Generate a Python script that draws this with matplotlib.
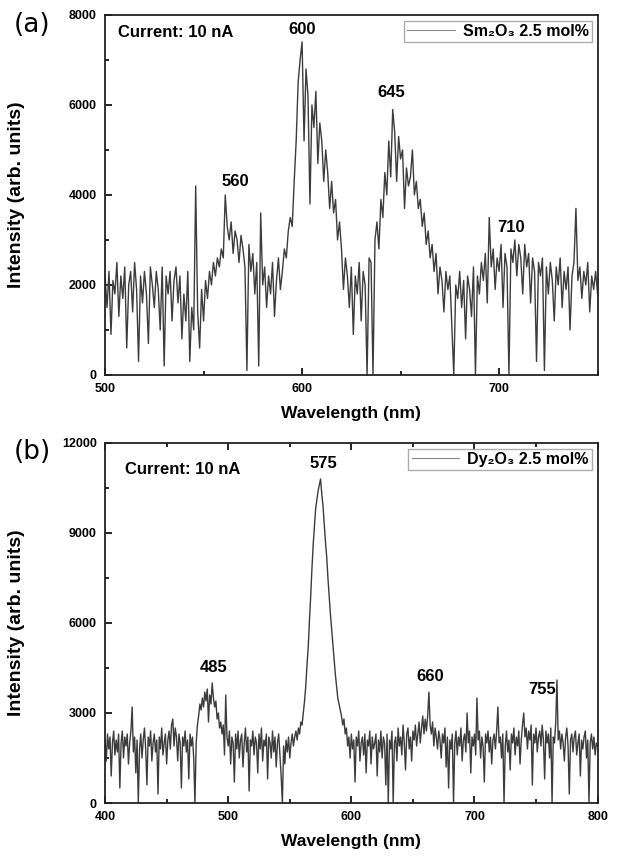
import numpy as np
import matplotlib
matplotlib.use("Agg")
import matplotlib.pyplot as plt
from matplotlib.ticker import MultipleLocator

plt.rcParams['font.family'] = ['Liberation Sans', 'DejaVu Sans']
plt.rcParams['font.weight'] = 'bold'

# (a) Sm2O3 2.5 mol%, 500-750 nm, 1 nm step
wl_a = np.arange(500, 751)
int_a = [
    2200, 1500, 2300, 900, 2100, 1800, 2500, 1300, 2200, 1700,
    2400, 600, 2000, 2300, 1400, 2500, 1900, 300, 2200, 1600,
    2300, 1800, 700, 2400, 2000, 1500, 2300, 1900, 1000, 2400,
    200, 2200, 1800, 2300, 1200, 2100, 2400, 1600, 2200, 800,
    1800, 1200, 2300, 300, 1500, 1000, 4200, 1400, 600, 1900,
    1200, 2100, 1700, 2300, 2000, 2500, 2200, 2600, 2400, 2800,
    2600, 4000, 3300, 3000, 3400, 2700, 3200, 3000, 2500, 3100,
    2800, 2400, 100, 2900, 2300, 2700, 1800, 2500, 200, 3600,
    2000, 2400, 1500, 2200, 1800, 2500, 1300, 2100, 2600, 1900,
    2300, 2800, 2600, 3200, 3500, 3300, 4300, 5200, 6500, 7000,
    7400, 5200, 6800, 6200, 3800, 6000, 5500, 6300, 4700, 5600,
    5200, 4300, 5000, 4500, 3700, 4300, 3600, 3900, 3000, 3400,
    2800, 1900, 2600, 2200, 1500, 2400, 900, 2200, 1800, 2500,
    1200, 2300, 2000, 0, 2600, 2500, 0, 3000, 3400, 2800,
    3900, 3500, 4500, 4000, 5200, 4400, 5900, 5400, 4300, 5300,
    4800, 5000, 3700, 4600, 4200, 4400, 5000, 4000, 4300, 3700,
    3900, 3300, 3600, 2900, 3200, 2600, 2900, 2300, 2700, 1800,
    2400, 2100, 1400, 2300, 1900, 2200, 1100, 0, 2000, 1700,
    2300, 1500, 2100, 800, 2200, 1900, 1300, 2400, 0, 2200,
    1800, 2500, 2100, 2700, 1600, 3500, 2400, 2800, 1900, 2600,
    2300, 2900, 1500, 2700, 2400, 0, 2800, 2500, 3000, 2200,
    2900, 2600, 1800, 2900, 2400, 2700, 1600, 2600, 2300, 300,
    2500, 2200, 2600, 100, 2400, 1800, 2500, 2100, 1200, 2400,
    2000, 2600, 1500, 2300, 1900, 2400, 1000, 2200, 2500, 3700,
    2100, 2400, 1700, 2300, 2000, 2500, 1400, 2200, 1900, 2300,
    1800,
]

# (b) Dy2O3 2.5 mol%, 400-800 nm, 1 nm step
wl_b = np.arange(400, 801)
int_b = [
    2100, 1400, 2300, 1800, 2200, 900, 2000, 2400, 1600, 2100,
    1700, 2300, 500, 2000, 2400, 1500, 2200, 1900, 2300, 1300,
    2000, 2400, 3200, 1700, 2200, 1000, 2100, 0, 1800, 2300,
    1500, 2100, 2500, 1800, 600, 2200, 1900, 2400, 1400, 2000,
    2300, 1700, 2100, 300, 2200, 1800, 2500, 1600, 2000, 2300,
    1300, 2100, 2400, 1800, 2600, 2800, 1900, 2500, 2200, 1400,
    2300, 2000, 500, 2200, 1900, 2400, 1700, 2100, 800, 2300,
    1900, 2200, 1500, 0, 2000, 2600, 2900, 3300, 3100, 3500,
    3200, 3700, 3400, 3800, 2700, 3600, 3300, 4000, 3500, 3200,
    3400, 2800, 3000, 2500, 2700, 2300, 2600, 1600, 3600, 2200,
    1900, 2400, 1300, 2200, 2000, 700, 2300, 1800, 2400, 1500,
    2100, 2300, 1200, 2000, 2500, 1700, 2200, 400, 2100, 1900,
    2400, 1600, 2200, 2000, 1000, 2300, 1800, 2500, 1400, 2100,
    1900, 2300, 800, 2200, 2000, 1500, 2400, 1700, 2200, 1200,
    2000, 2300, 1600, 900, 0, 1900, 1300, 2100, 1700, 2200,
    1500, 2000, 2300, 1900, 2200, 2400, 2100, 2500, 2300, 2700,
    2600, 3000, 3400, 3900, 4600, 5200, 6100, 6900, 7800, 8600,
    9200, 9800, 10100, 10400, 10600, 10800, 10300, 9900, 9300, 8700,
    8200, 7500, 6900, 6300, 5800, 5300, 4800, 4300, 3900, 3500,
    3300, 3100, 2900, 2600, 2800, 2300, 2500, 1900, 2200, 1500,
    2300, 1800, 2100, 700, 2200, 1900, 2400, 1400, 2000, 2200,
    1600, 2300, 1000, 2100, 1900, 2400, 1300, 2200, 1800, 2000,
    2300, 900, 2100, 1700, 2400, 1500, 2200, 2000, 600, 2300,
    0, 2100, 1800, 2400, 0, 2000, 2200, 1400, 2500, 1900,
    2200, 1600, 2600, 2000, 1100, 2300, 2500, 1800, 2200, 1400,
    2400, 2100, 2600, 1900, 2300, 2700, 2000, 2500, 2900, 2300,
    2800, 2400, 2900, 3700, 2600, 2300, 2700, 1900, 2500, 2200,
    1800, 2400, 2100, 1500, 2300, 2000, 2500, 1200, 2200, 500,
    2100, 1800, 2300, 0, 2000, 2400, 1600, 2200, 1900, 2500,
    1400, 2100, 2300, 1700, 3000, 2000, 2400, 1000, 2200, 1900,
    2300, 1600, 3500, 2100, 2400, 1500, 2200, 1900, 700, 2300,
    2000, 2400, 1700, 2200, 1300, 2100, 2300, 1800, 2400, 3200,
    2000, 2200, 1500, 2300, 0, 1900, 2400, 1700, 2100, 1100,
    2300, 2000, 2500, 1600, 2200, 1900, 2400, 1300, 2100, 2600,
    3000, 2200, 2500, 1800, 2400, 2100, 2600, 600, 2300, 2000,
    2500, 1700, 2200, 2400, 1900, 2600, 2100, 800, 2400, 2000,
    2300, 1500, 2500, 0, 2200, 2000, 2700, 4100, 2100, 2400,
    1800, 2300, 2000, 1400, 2200, 2500, 1900, 300, 2100, 2300,
    1700, 2200, 2400, 1600, 2000, 2300, 900, 2100, 1800, 2200,
    2400, 1500, 2100, 0, 2000, 2300, 1800, 2200, 1600, 2000,
    1900,
]

peaks_a = ['560', '600', '645', '710']
peaks_a_pos = [(566, 4300), (600, 7680), (645.5, 6270), (706, 3280)]
peaks_b = ['485', '575', '660', '755']
peaks_b_pos = [(488.5, 4500), (577, 11300), (664, 4200), (755, 3780)]

fig = plt.figure(figsize=(6.18, 8.58), dpi=100)


def style(ax, xlim, ylim, xmaj, ymaj, top):
    ax.set_xlim(*xlim)
    ax.set_ylim(*ylim)
    ax.xaxis.set_major_locator(MultipleLocator(xmaj))
    ax.xaxis.set_minor_locator(MultipleLocator(xmaj / 2))
    ax.yaxis.set_major_locator(MultipleLocator(ymaj))
    ax.yaxis.set_minor_locator(MultipleLocator(ymaj / 2))
    ax.tick_params(which='both', direction='in', top=top, right=False,
                   width=1.2, labelsize=9)
    ax.tick_params(which='major', length=5, pad=6)
    ax.tick_params(which='minor', length=3)
    for s in ax.spines.values():
        s.set_linewidth(1.3)
        s.set_color('#222222')
    for lab in ax.get_xticklabels() + ax.get_yticklabels():
        lab.set_fontweight('bold')
    ax.set_xlabel('Wavelength (nm)', fontsize=12.5, fontweight='bold')
    ax.set_ylabel('Intensity (arb. units)', fontsize=14, fontweight='bold')
    ax.xaxis.set_label_coords(0.5, -0.085)
    ax.yaxis.set_label_coords(-0.162, 0.5)


leg_prop = dict(family=['Liberation Sans', 'DejaVu Sans'], weight='bold', size=11.5)
line_kw = dict(color='#3c3c3c', lw=1.0)

ax1 = fig.add_axes([0.170, 0.563, 0.797, 0.4196])
ax1.plot(wl_a, int_a, label='Sm₂O₃ 2.5 mol%', **line_kw)
style(ax1, (500, 750), (0, 8000), 100, 2000, False)
ax1.text(506.5, 7610, 'Current: 10 nA', fontsize=12, fontweight='bold', va='center')
for t, (x, y) in zip(peaks_a, peaks_a_pos):
    ax1.text(x, y, t, fontsize=12, fontweight='bold', ha='center', va='center')
leg = ax1.legend(loc='upper right', frameon=True, fancybox=False, edgecolor='#999999',
                 prop=leg_prop, handlelength=3.0, borderaxespad=0.35,
                 borderpad=0.2, handletextpad=0.5)
leg.get_lines()[0].set_color('#888888')
leg.get_lines()[0].set_linewidth(0.8)
fig.text(0.022, 0.971, '(a)', fontsize=19, family='DejaVu Sans', fontweight='normal', va='center')

ax2 = fig.add_axes([0.170, 0.0641, 0.797, 0.4196])
ax2.plot(wl_b, int_b, label='Dy₂O₃ 2.5 mol%', **line_kw)
style(ax2, (400, 800), (0, 12000), 100, 3000, True)
ax2.text(416, 11130, 'Current: 10 nA', fontsize=12, fontweight='bold', va='center')
for t, (x, y) in zip(peaks_b, peaks_b_pos):
    ax2.text(x, y, t, fontsize=12, fontweight='bold', ha='center', va='center')
leg = ax2.legend(loc='upper right', frameon=True, fancybox=False, edgecolor='#999999',
                 prop=leg_prop, handlelength=3.0, borderaxespad=0.35,
                 borderpad=0.2, handletextpad=0.5)
leg.get_lines()[0].set_color('#888888')
leg.get_lines()[0].set_linewidth(0.8)
fig.text(0.022, 0.473, '(b)', fontsize=19, family='DejaVu Sans', fontweight='normal', va='center')

fig.savefig('out.png', dpi=100)
